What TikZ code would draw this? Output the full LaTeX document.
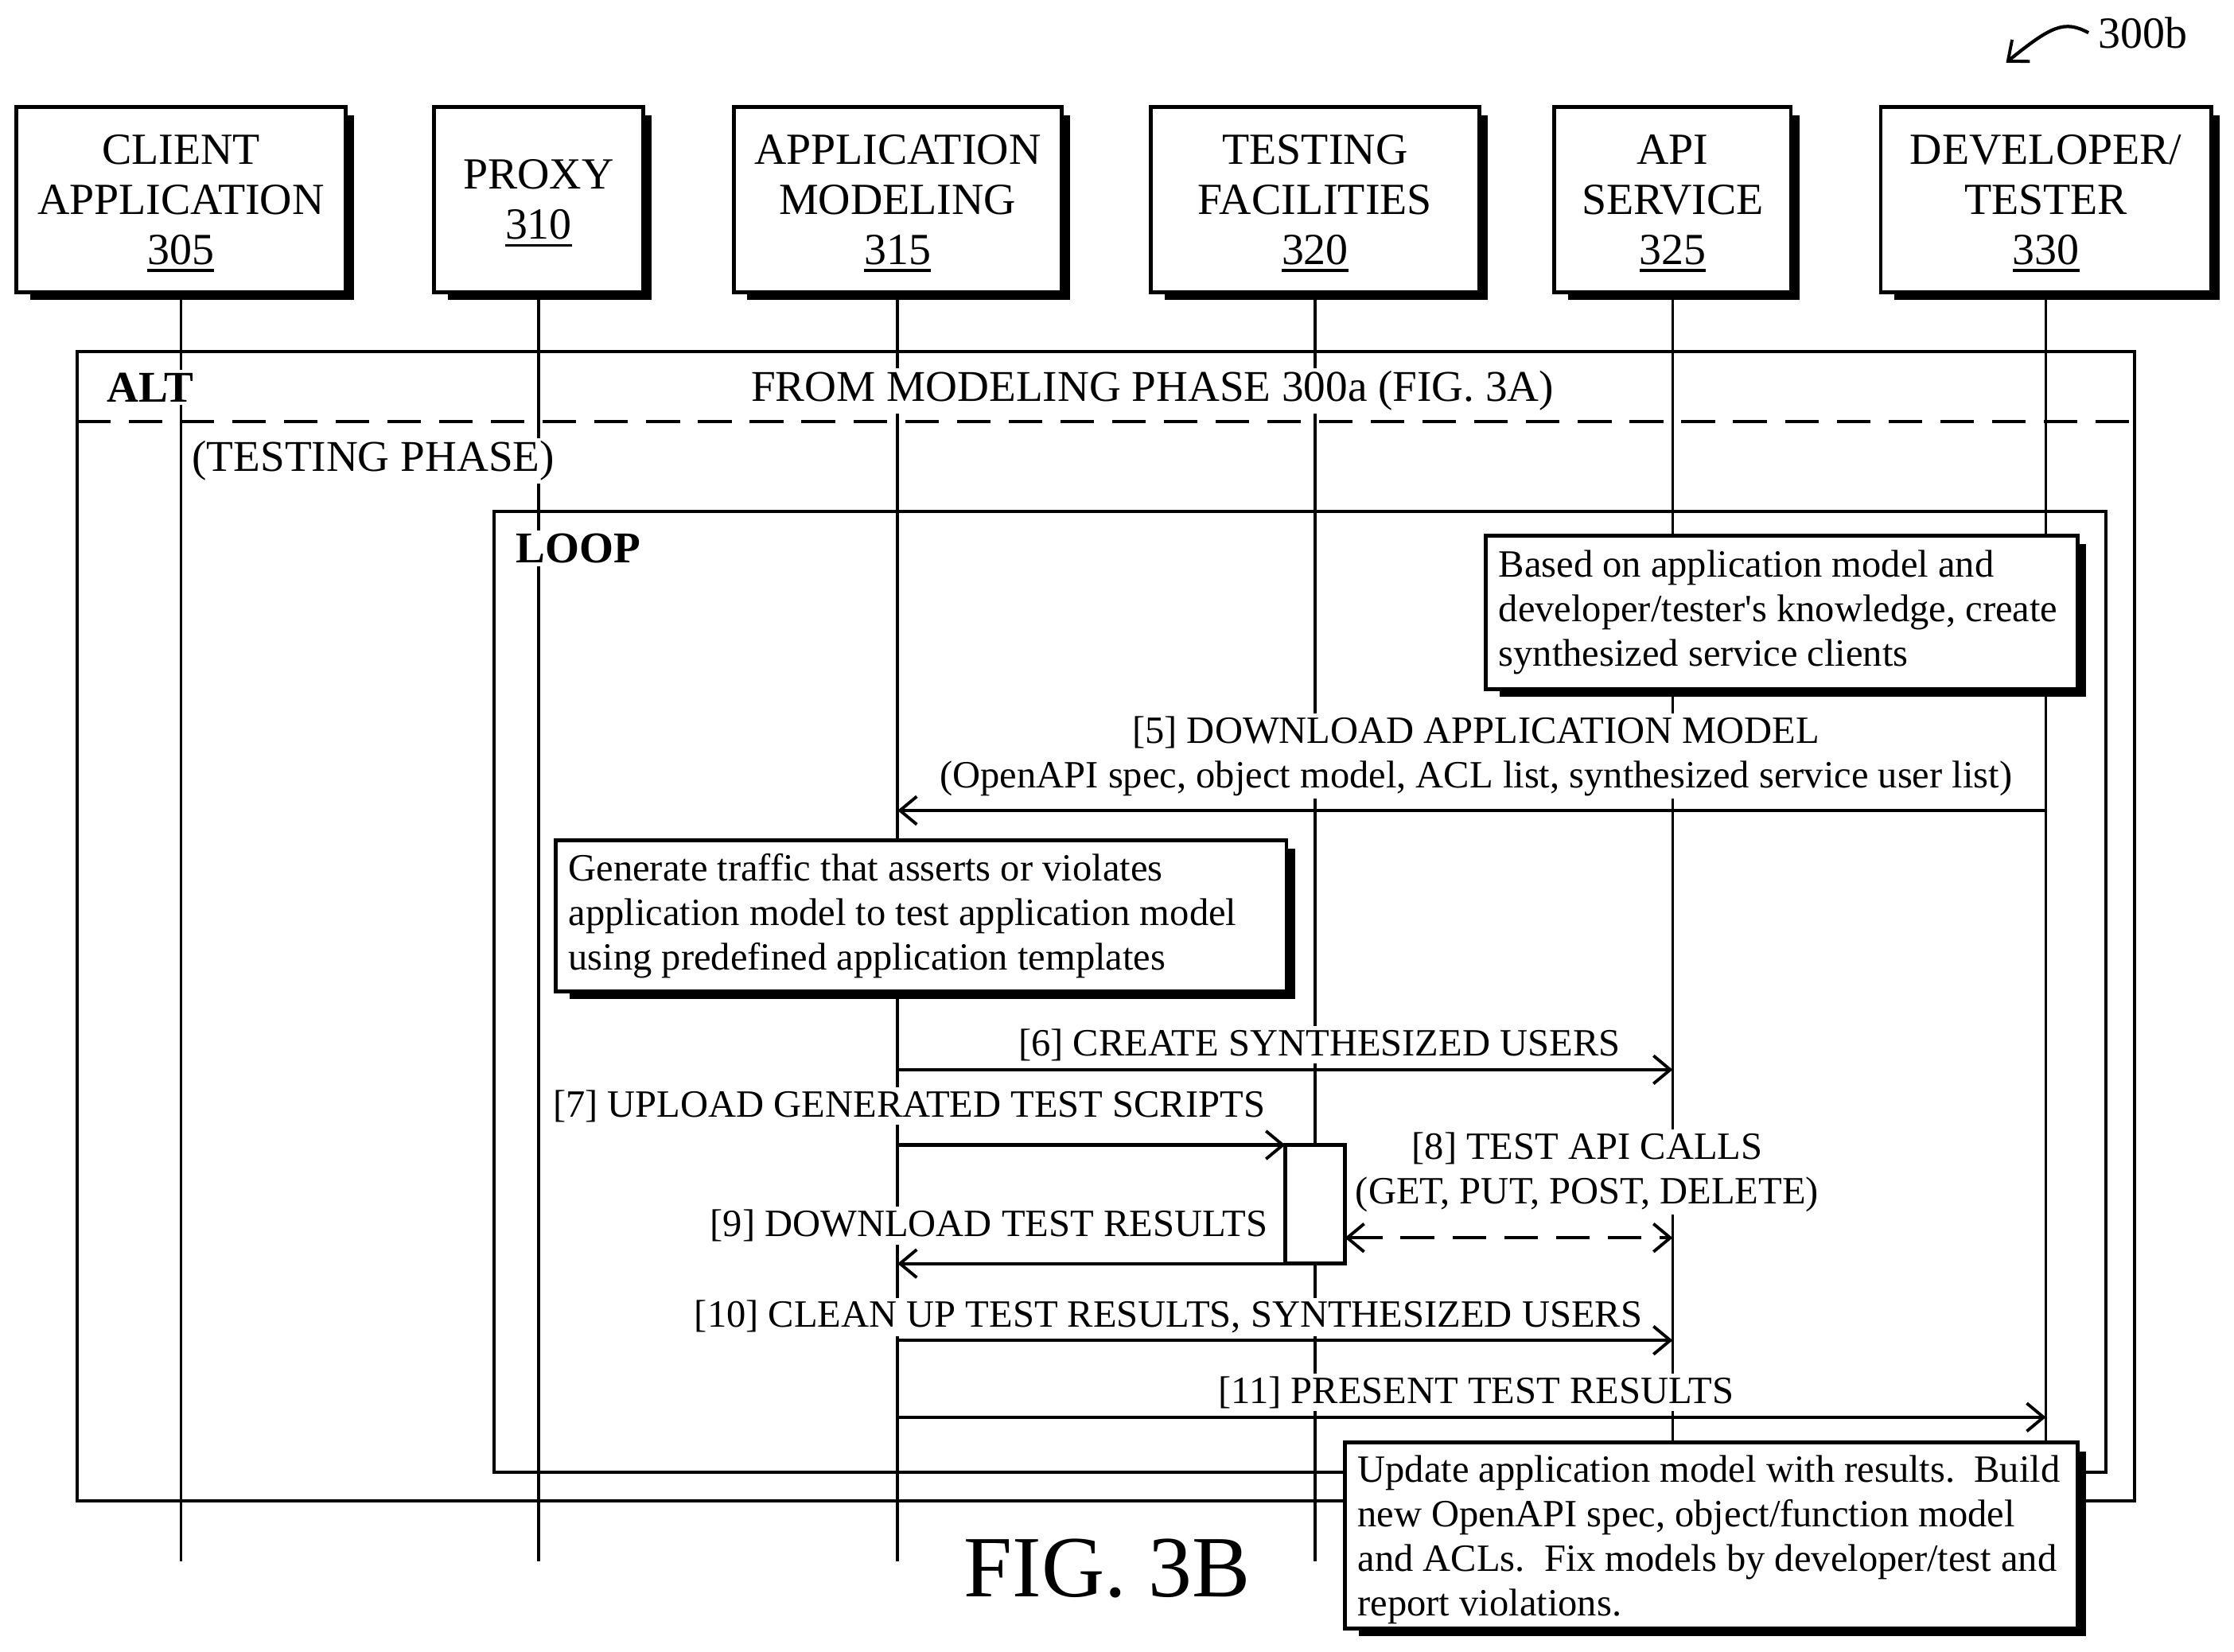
\documentclass[tikz,border=0pt]{standalone}
\usepackage{fontspec}
\setmainfont{Liberation Serif}[Ligatures=TeXOff]
\usetikzlibrary{arrows.meta, calc, positioning}
\pgfdeclarelayer{lines}
\pgfdeclarelayer{shade}
\pgfsetlayers{lines,shade,main}
\newcommand{\refnum}[1]{\raisebox{0pt}[\height][0pt]{\vtop{\hbox{#1}\kern1.5pt\hrule height 1.1pt}}}
\tikzset{
    bigtext/.style={font=\fontsize{15.9}{17.9}\selectfont},
    frametext/.style={font=\fontsize{15.7}{17.9}\selectfont},
    tagtext/.style={font=\fontsize{15.7}{17.9}\selectfont\bfseries},
    smalltext/.style={font=\fontsize{13.8}{15.9}\selectfont},
    actor/.style={draw, line width=1.4pt, fill=white, bigtext, align=center, minimum height=2.33cm, inner sep=0pt},
    notebox/.style={draw, line width=1.4pt, fill=white, smalltext, align=flush left, inner xsep=.16cm, inner ysep=0pt},
    runbar/.style={draw, line width=1.4pt, fill=white, outer sep=0pt},
    lbl/.style={fill=white, smalltext, align=center, inner sep=1pt},
    biglbl/.style={fill=white, frametext, align=center, inner sep=1pt},
    lifeline/.style={line width=1pt},
    frame/.style={line width=1.1pt},
    msg/.style={line width=1.2pt, ->},
    splitline/.style={line width=1.1pt, dash pattern=on 12pt off 6.5pt},
    >={Straight Barb[length=6pt, width=10pt, line width=1.1pt]}
}

\begin{document}
\begin{tikzpicture}[x=0.0179cm, y=-0.0179cm]
    \useasboundingbox (0,0) rectangle (1568,1159.7);

    % Top row
    \node[actor, minimum width=4.13cm] (client) at (127,140) {CLIENT\\APPLICATION\\\refnum{305}};
    \node[actor, minimum width=2.63cm] (proxy) at (378,140) {PROXY\\\refnum{310}};
    \node[actor, minimum width=4.12cm] (appmodel) at (630,140) {APPLICATION\\MODELING\\\refnum{315}};
    \node[actor, minimum width=4.12cm] (testfac) at (923,140) {TESTING\\FACILITIES\\\refnum{320}};
    \node[actor, minimum width=2.97cm] (apisvc) at (1174,140) {API\\SERVICE\\\refnum{325}};
    \node[actor, minimum width=4.15cm] (devtester) at (1436,140) {DEVELOPER/\\TESTER\\\refnum{330}};

    % Reference mark
    \node[bigtext] (refmark) at (1504,23) {300b};
    \coordinate (reftip) at (1408,44);
    \draw[msg] (refmark.west) .. controls (1449,14) and (1440,18) .. (reftip);

    % Lifelines
    \coordinate (clientend) at (client |- 0,1096);
    \coordinate (proxyend) at (proxy |- 0,1096);
    \coordinate (appmodelend) at (appmodel |- 0,1096);
    \coordinate (testfacend) at (testfac |- 0,1096);
    \coordinate (apisvcend) at (apisvc |- 0,1096);
    \coordinate (devtesterend) at (devtester |- 0,1096);
    \begin{pgfonlayer}{lines}
        \draw[lifeline] (client) -- (clientend);
        \draw[lifeline] (proxy) -- (proxyend);
        \draw[lifeline] (appmodel) -- (appmodelend);
        \draw[lifeline] (testfac) -- (testfacend);
        \draw[lifeline] (apisvc) -- (apisvcend);
        \draw[lifeline] (devtester) -- (devtesterend);

        % Frames
        \draw[frame] (54,247) rectangle (1498,1053.5);
        \draw[splitline] (54,296) -- (1498,296);
        \draw[frame] (347,359) rectangle (1478,1033.5);
    \end{pgfonlayer}

    % Frame texts
    \node[biglbl, anchor=west, tagtext] (alttag) at (73,272) {ALT};
    \node[biglbl] (altguard) at (809,274.5) {FROM MODELING PHASE 300a (FIG. 3A)};
    \node[biglbl] (altphase) at (262,323.5) {(TESTING PHASE)};
    \node[biglbl, anchor=west, tagtext] (looptag) at (360,385) {LOOP};

    % Notes
    \node[notebox, text width=7.11cm, minimum height=1.93cm] (noteclients) at (1250.5,430)
        {Based on application model and\\developer/tester's knowledge, create\\synthesized service clients};
    \node[notebox, text width=8.86cm, minimum height=1.9cm] (notetraffic) at (646.5,643)
        {Generate traffic that asserts or violates\\application model to test application model\\using predefined application templates};
    \node[notebox, text width=8.88cm, minimum height=2.33cm] (noteupdate) at (1201,1078)
        {\rule{0pt}{12.5pt}Update application model with results.\ \ Build\\new OpenAPI spec, object/function model\\and ACLs.\ \ Fix models by developer/test and\\report violations.};

    % Test run bar
    \node[runbar, minimum width=.75cm, minimum height=1.49cm] (testrun) at (923,845.5) {};

    % Shadows
    \begin{pgfonlayer}{shade}
        \foreach \n in {client, proxy, appmodel, testfac, apisvc, devtester, noteclients, notetraffic, noteupdate}
            \fill ($(\n.south west)+(11,4)$) rectangle ($(\n.north east)+(4.5,7.5)$);
    \end{pgfonlayer}

    % Message labels
    \node[lbl] (m5text) at (1036,531) {[5] DOWNLOAD APPLICATION MODEL\\(OpenAPI spec, object model, ACL list, synthesized service user list)};
    \node[lbl] (m6text) at (926,733.5) {[6] CREATE SYNTHESIZED USERS};
    \node[lbl] (m7text) at (638,776.5) {[7] UPLOAD GENERATED TEST SCRIPTS};
    \node[lbl] (m8text) at (1114,823) {[8] TEST API CALLS\\(GET, PUT, POST, DELETE)};
    \node[lbl] (m9text) at (694,860.5) {[9] DOWNLOAD TEST RESULTS};
    \node[lbl] (m10text) at (820,924.5) {[10] CLEAN UP TEST RESULTS, SYNTHESIZED USERS};
    \node[lbl] (m11text) at (1036,977.5) {[11] PRESENT TEST RESULTS};

    % Messages
    \draw[msg] (devtester |- 0,569) -- (appmodel |- 0,569);
    \draw[msg] (appmodel |- 0,751) -- (apisvc |- 0,751);
    \draw[msg] (appmodel |- testrun.north west) -- (testrun.north west);
    \draw[splitline, <->] (testrun.east |- 0,869) -- (apisvc |- 0,869);
    \draw[msg] (testrun.south west) -- (appmodel |- testrun.south west);
    \draw[msg] (appmodel |- 0,941) -- (apisvc |- 0,941);
    \draw[msg] (appmodel |- 0,995) -- (devtester |- 0,995);

    % Figure title
    \node[font=\fontsize{31.2}{34}\selectfont] (figtitle) at (777,1101) {FIG. 3B};
\end{tikzpicture}
\end{document}
